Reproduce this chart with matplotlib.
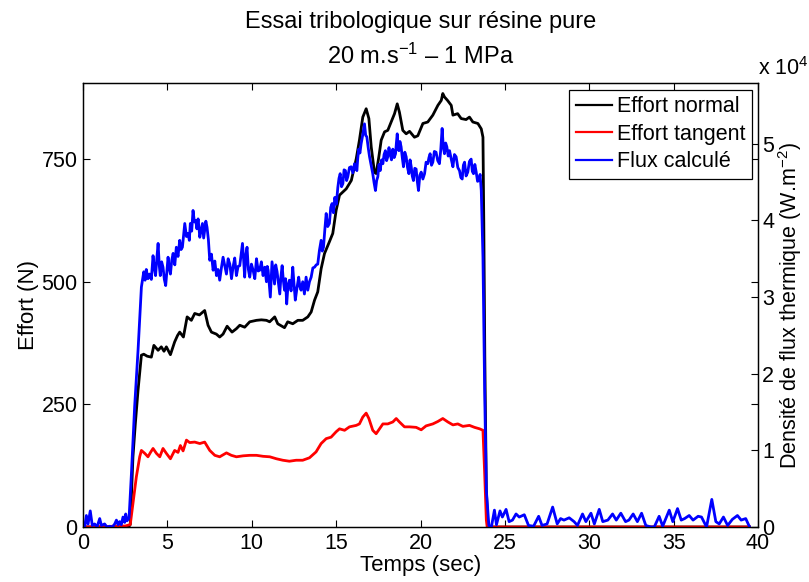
import matplotlib
matplotlib.use("Agg")
import matplotlib.pyplot as plt

plt.rcParams['font.family'] = ['Liberation Sans', 'DejaVu Sans']
plt.rcParams['mathtext.fontset'] = 'custom'
plt.rcParams['mathtext.rm'] = 'Liberation Sans'
plt.rcParams['mathtext.it'] = 'Liberation Sans'
plt.rcParams['mathtext.default'] = 'regular'

# Effort normal (N)
t_normal = [0, 2.7, 2.8, 2.96, 3.1, 3.26, 3.46, 3.6, 3.8, 4.05, 4.2, 4.45, 4.64, 4.8, 4.94,
            5.18, 5.43, 5.6, 5.73, 5.95, 6.17, 6.42, 6.62, 6.9, 7.21, 7.41, 7.61, 7.9, 8.1,
            8.3, 8.54, 8.83, 9.09, 9.29, 9.58, 9.88, 10.28, 10.57, 10.87, 11.06, 11.36,
            11.54, 11.94, 12.13, 12.43, 12.73, 13.02, 13.32, 13.52, 13.72, 13.91, 14.11,
            14.31, 14.6, 14.8, 15.0, 15.2, 15.6, 15.9, 16.19, 16.38, 16.58, 16.78, 16.94,
            17.08, 17.27, 17.37, 17.53, 17.67, 17.87, 18.06, 18.26, 18.46, 18.62, 18.75,
            18.95, 19.15, 19.35, 19.64, 19.84, 20.14, 20.43, 20.73, 21.03, 21.23, 21.32,
            21.42, 21.6, 21.82, 21.92, 22.2, 22.41, 22.7, 22.9, 23.1, 23.4, 23.6, 23.7,
            23.75, 23.81, 23.9, 24.0, 39.5]
effort_normal = [0, 0, 5, 143, 210, 278, 350, 352, 348, 346, 370, 360, 367, 358, 367,
                 351, 377, 390, 397, 387, 428, 421, 435, 432, 441, 411, 397, 393, 387,
                 393, 409, 397, 404, 411, 407, 418, 421, 422, 421, 418, 428,
                 414, 406, 418, 414, 421, 421, 428, 438, 462, 479, 526,
                 557, 581, 598, 645, 676, 689, 706, 750, 788, 835, 852, 832,
                 774, 723, 720, 754, 788, 805, 808, 825, 842, 862, 845,
                 808, 801, 806, 794, 797, 822, 825, 839, 859, 869, 883,
                 876, 869, 859, 839, 842, 832, 830, 835, 825, 822, 811, 794,
                 618, 346, 75, 0, 0]

# Effort tangent (N)
t_tangent = [0, 1.5, 2.0, 2.5, 2.8, 2.96, 3.16, 3.36, 3.46, 3.66, 3.85, 4.0, 4.15, 4.35,
             4.55, 4.74, 4.94, 5.18, 5.43, 5.63, 5.77, 5.93, 6.13, 6.32, 6.62, 6.92, 7.21,
             7.51, 7.81, 8.1, 8.5, 8.79, 9.09, 9.49, 9.88, 10.28, 10.67, 11.07, 11.46,
             11.84, 12.23, 12.63, 13.02, 13.42, 13.81, 14.11, 14.41, 14.7, 15.0, 15.2,
             15.5, 15.79, 16.19, 16.38, 16.58, 16.78, 16.94, 17.17, 17.37, 17.57, 17.77,
             18.06, 18.36, 18.56, 18.75, 19.05, 19.35, 19.74, 20.04, 20.33, 20.73, 21.03,
             21.32, 21.62, 21.92, 22.21, 22.51, 22.9, 23.2, 23.5, 23.7, 23.8, 23.9, 23.95,
             39.5]
effort_tangent = [0, 1, 2, 2, 5, 48, 102, 143, 156, 150, 143, 152, 160, 150,
                  143, 160, 150, 139, 156, 152, 166, 155, 177, 172, 173, 170, 173,
                  156, 146, 143, 151, 146, 143, 145, 146, 146, 144, 143, 139,
                  136, 134, 136, 136, 141, 153, 170, 180, 183, 194, 200,
                  197, 204, 207, 210, 224, 232, 221, 197, 190, 200, 210,
                  210, 214, 221, 214, 204, 204, 203, 198, 206, 210, 215,
                  221, 214, 208, 210, 205, 207, 203, 200, 197, 110, 14, 0,
                  0]

# Flux calculé (W.m-2)
t_flux = [0, 0.1, 0.2, 0.3, 0.43, 0.55, 0.69, 0.83, 0.99, 1.09, 1.28, 1.42, 1.58, 1.74,
          1.88, 1.98, 2.08, 2.17, 2.27, 2.37, 2.47, 2.53, 2.61, 2.73, 2.87, 3.06, 3.26,
          3.46, 3.6, 3.68, 3.75, 3.85, 3.95, 4.05, 4.15, 4.22, 4.3, 4.37, 4.45, 4.52, 4.58,
          4.66, 4.74, 4.82, 4.9, 4.97, 5.04, 5.11, 5.18, 5.26, 5.34, 5.44, 5.53, 5.63,
          5.73, 5.81, 5.89, 5.96, 6.03, 6.13, 6.23, 6.3, 6.36, 6.44, 6.52, 6.6, 6.68, 6.75,
          6.82, 6.87, 6.92, 7.0, 7.08, 7.15, 7.21, 7.28, 7.35, 7.43, 7.51, 7.61, 7.71,
          7.81, 7.91, 8.0, 8.1, 8.2, 8.3, 8.4, 8.5, 8.6, 8.7, 8.8, 8.89, 8.99, 9.09, 9.19,
          9.29, 9.37, 9.45, 9.52, 9.58, 9.65, 9.72, 9.8, 9.88, 9.98, 10.08, 10.18, 10.28,
          10.38, 10.47, 10.57, 10.67, 10.77, 10.87, 10.92, 10.97, 11.04, 11.1, 11.15, 11.2,
          11.28, 11.35, 11.42, 11.5, 11.58, 11.66, 11.73, 11.8, 11.87, 11.94, 12.0, 12.07,
          12.15, 12.23, 12.33, 12.43, 12.5, 12.58, 12.68, 12.78, 12.85, 12.92, 13.02,
          13.12, 13.22, 13.32, 13.42, 13.52, 13.62, 13.72, 13.82, 13.91, 14.01, 14.11,
          14.18, 14.25, 14.33, 14.41, 14.5, 14.6, 14.68, 14.76, 14.84, 14.92, 15.01,
          15.1, 15.17, 15.24, 15.32, 15.4, 15.47, 15.55, 15.62, 15.69, 15.79, 15.89,
          15.99, 16.09, 16.16, 16.23, 16.28, 16.34, 16.41, 16.48, 16.58, 16.68, 16.75,
          16.82, 16.9, 16.98, 17.08, 17.17, 17.25, 17.33, 17.4, 17.47, 17.54, 17.61,
          17.69, 17.77, 17.84, 17.92, 17.99, 18.06, 18.13, 18.2, 18.28, 18.36, 18.44,
          18.52, 18.57, 18.62, 18.67, 18.72, 18.78, 18.85, 18.92, 18.99, 19.07, 19.15,
          19.23, 19.31, 19.38, 19.45, 19.51, 19.58, 19.66, 19.74, 19.81, 19.88, 19.96,
          20.04, 20.14, 20.24, 20.33, 20.43, 20.5, 20.57, 20.65, 20.73, 20.82, 20.92,
          21.02, 21.12, 21.2, 21.28, 21.35, 21.42, 21.49, 21.56, 21.64, 21.72, 21.82,
          21.92, 22.01, 22.11, 22.21, 22.31, 22.39, 22.47, 22.54, 22.61, 22.7, 22.8,
          22.9, 23.0, 23.07, 23.14, 23.22, 23.3, 23.38, 23.46, 23.53, 23.6, 23.7, 23.8,
          23.9, 24.05, 24.2, 24.38, 24.5, 24.71, 24.85, 25.07, 25.25, 25.45, 25.66,
          25.85, 26.15, 26.4, 26.7, 27.0, 27.2, 27.5, 27.83, 28.1, 28.3, 28.5, 28.81,
          29.1, 29.3, 29.6, 29.8, 30.1, 30.3, 30.59, 30.8, 31.1, 31.38, 31.6, 31.87,
          32.15, 32.35, 32.6, 32.85, 33.1, 33.35, 33.65, 33.85, 34.14, 34.35, 34.74,
          34.95, 35.23, 35.45, 35.65, 35.92, 36.15, 36.45, 36.65, 36.95, 37.26, 37.5,
          37.7, 37.95, 38.2, 38.48, 38.78, 39.0, 39.27, 39.5]
flux = [500, 0, 1500, 400, 2100, 200, 400, 0, 1100, 200, 400, 0, 100, 0,
        400, 900, 300, 700, 300, 1300, 600, 1700, 800, 1200, 7000, 15700, 23000,
        31300, 33300, 32200, 33600, 32400, 33000, 32300, 35400, 33900, 32800, 34900, 37000, 34100, 32800,
        34600, 33900, 32300, 31500, 33300, 35200, 33800, 33000, 34800, 35700, 34200, 36500, 35300,
        37400, 36200, 36500, 38100, 39600, 37900, 38300, 37400, 39600, 38600, 41300, 39800, 40000, 38900,
        40200, 39100, 37800, 38700, 39600, 37700, 38700, 39900, 39100, 37500, 34800, 35600, 33500,
        34700, 32800, 33600, 32200, 33800, 35200, 34100, 33000, 35000, 34300, 32400, 33900, 35100, 32800, 34000,
        34100, 35600, 37000, 34800, 32600, 35500, 36500, 33600, 32600, 34300, 33500, 32400, 35000,
        33400, 33500, 34600, 32800, 33900, 32000, 34000, 33500, 31600, 30000, 32400, 34600,
        33000, 31700, 34200, 33300, 31900, 30400, 32700, 34100, 32200, 30900, 32400, 29100,
        31600, 32200, 30800, 33900, 31800, 29600, 31200, 32600, 31400, 30900, 32000,
        30400, 32600, 30900, 32000, 32600, 33800, 33900, 34200, 34300, 36100, 37400,
        36000, 36500, 38800, 40900, 39200, 39600, 41700, 42200, 41000, 43000, 42100,
        44300, 45500, 46100, 44400, 44800, 46600, 46500, 45200, 45700, 46900, 47000,
        46200, 47400, 46800, 46500, 48100, 49300, 48800, 50000, 51200, 52600, 51100,
        50900, 49500, 48300, 47100, 46100, 44900, 43900, 45200, 45700, 47300, 46500,
        47900, 47400, 48600, 49100, 47800, 48300, 49500, 48700, 47900, 49300, 48200,
        48700, 50100, 51300, 49500, 49100, 50300, 49600, 48200, 47000, 48900, 48300,
        46900, 46100, 47900, 47000, 45800, 45200, 46800, 46700, 45100, 43900, 45900,
        46300, 45400, 46100, 47600, 47400, 48200, 48700, 47200, 47600, 49000, 48900,
        47800, 47400, 49200, 52000, 49600, 48700, 50100, 49600, 48400, 49100, 48000,
        47000, 48600, 48300, 46900, 46500, 45600, 45400, 47200, 47600, 45800, 46300,
        47700, 48000, 46400, 46100, 47300, 46300, 45100, 45200, 46000, 43900, 35200, 17800,
        4800, 200, 0, 2200, 300, 2100, 1300, 2300, 700, 900, 1700,
        1300, 1600, 200, 100, 1400, 200, 400, 2600, 400, 1100, 900, 1200,
        700, 200, 1700, 700, 1800, 400, 2300, 700, 900, 1700, 900, 1800,
        700, 900, 1700, 700, 1800, 200, 0, 0, 1400, 100, 2200,
        700, 2400, 900, 1100, 1500, 900, 1400, 1300, 0, 3600, 700,
        400, 1300, 200, 1000, 1500, 900, 1100, 0]

fig = plt.figure(figsize=(8.09, 5.82), dpi=100)
ax = fig.add_axes([0.1026, 0.0945, 0.8344, 0.7625])
ax2 = ax.twinx()

lw = 2.0
l1, = ax.plot(t_normal, effort_normal, color='black', lw=lw, label='Effort normal')
l2, = ax.plot(t_tangent, effort_tangent, color='red', lw=lw, label='Effort tangent')
l3, = ax2.plot(t_flux, flux, color='blue', lw=lw, label='Flux calculé')

fs = 15.5
ax.set_xlim(0, 40)
ax.set_ylim(0, 904)
ax2.set_ylim(0, 57900)
ax.set_xticks([0, 5, 10, 15, 20, 25, 30, 35, 40])
ax.set_yticks([0, 250, 500, 750])
ax2.set_yticks([0, 10000, 20000, 30000, 40000, 50000])
ax2.set_yticklabels(['0', '1', '2', '3', '4', '5'])

ax.tick_params(direction='in', length=5, width=0.8, labelsize=fs, pad=4,
               top=True, right=True)
ax2.tick_params(direction='in', length=5, width=0.8, labelsize=fs, pad=3)

for a in (ax, ax2):
    for s in a.spines.values():
        s.set_linewidth(0.9)
        s.set_color('black')

ax.set_xlabel('Temps (sec)', fontsize=16, labelpad=1)
ax.set_ylabel('Effort (N)', fontsize=16, labelpad=2)
ax2.set_ylabel('Densité de flux thermique (W.m$^{-2}$)', fontsize=15.5, labelpad=1)

ax.set_title('Essai tribologique sur résine pure\n20 m.s$^{-1}$ – 1 MPa',
             fontsize=17, pad=14, linespacing=1.5)

ax2.annotate('x 10$^{4}$', xy=(1, 1), xycoords='axes fraction',
             xytext=(0, 2), textcoords='offset points',
             ha='left', va='bottom', fontsize=fs)

leg = ax2.legend(handles=[l1, l2, l3], loc='upper right', fontsize=fs,
                 frameon=True, fancybox=False, framealpha=1, edgecolor='black',
                 borderaxespad=0.3, labelspacing=0.3, handlelength=1.7,
                 handletextpad=0.2, borderpad=0.3)
leg.get_frame().set_linewidth(0.9)
for h in leg.get_lines():
    h.set_linewidth(1.6)

fig.savefig('out.png', dpi=100)
